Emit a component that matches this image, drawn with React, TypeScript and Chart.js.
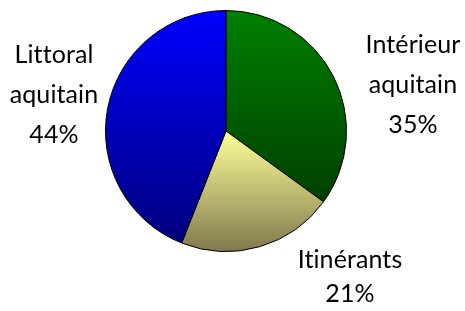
import React, { useEffect, useRef } from "react";
import { Chart, registerables } from "chart.js";

Chart.register(...registerables);

const categories = ["Intérieur aquitain", "Itinérants", "Littoral aquitain"];
const shares = [35, 21, 44];
const labelLines = [
  ["Intérieur", "aquitain", "35%"],
  ["Itinérants", "21%"],
  ["Littoral", "aquitain", "44%"],
];
const topColors = ["#008000", "#ffff99", "#0000ff"];
const bottomColors = ["#003f00", "#7f784c", "#00007c"];

// label layout: offset of first baseline from pie centre (px), line step
const labelLayout = [
  { dx: 187, dy: -78, step: 40 },
  { dx: 124, dy: 137, step: 34 },
  { dx: -172, dy: -68, step: 40 },
];

function sliceGradient(ctx: any) {
  const chart = ctx.chart;
  const i = ctx.dataIndex;
  const area = chart.chartArea;
  if (!area || i === undefined) return topColors[i ?? 0];
  const cx = (area.left + area.right) / 2;
  const cy = (area.top + area.bottom) / 2;
  const r = Math.min(area.right - area.left, area.bottom - area.top) / 2;
  const total = shares.reduce((a, b) => a + b, 0);
  let start = -Math.PI / 2;
  for (let k = 0; k < i; k++) start += (shares[k] / total) * Math.PI * 2;
  const end = start + (shares[i] / total) * Math.PI * 2;
  let minY = cy, maxY = cy;
  const steps = 60;
  for (let s = 0; s <= steps; s++) {
    const a = start + ((end - start) * s) / steps;
    const y = cy + r * Math.sin(a);
    minY = Math.min(minY, y);
    maxY = Math.max(maxY, y);
  }
  const g = chart.ctx.createLinearGradient(0, minY, 0, maxY);
  g.addColorStop(0, topColors[i]);
  g.addColorStop(1, bottomColors[i]);
  return g;
}

const labelPlugin = {
  id: "outerLabels",
  afterDraw(chart: any) {
    const meta = chart.getDatasetMeta(0);
    const arc = meta.data[0];
    if (!arc) return;
    const cx = arc.x;
    const cy = arc.y;
    const c = chart.ctx;
    c.save();
    c.fillStyle = "#000";
    c.font = "25px Lato";
    try { (c as any).letterSpacing = "0.1px"; } catch (e) {}
    c.textAlign = "center";
    c.textBaseline = "alphabetic";
    labelLines.forEach((lines, i) => {
      const L = labelLayout[i];
      lines.forEach((t, j) => {
        c.fillText(t, cx + L.dx, cy + L.dy + j * L.step);
      });
    });
    c.restore();
  },
};

export default function App() {
  const ref = useRef<HTMLCanvasElement | null>(null);
  useEffect(() => {
    document.body.style.margin = "0";
    const chart = new Chart(ref.current!, {
      type: "pie",
      data: {
        labels: categories,
        datasets: [
          {
            data: shares,
            backgroundColor: sliceGradient as any,
            borderColor: "#000",
            borderWidth: 1,
            hoverOffset: 0,
          },
        ],
      },
      options: {
        responsive: false,
        animation: false,
        layout: { padding: { top: 10, bottom: 59, left: 100, right: 113 } },
        plugins: { legend: { display: false }, tooltip: { enabled: false } },
      },
      plugins: [labelPlugin],
    });
    return () => chart.destroy();
  }, []);
  return (
    <div style={{ width: 465, height: 311, background: "#fff" }}>
      <canvas ref={ref} width={465} height={311} />
    </div>
  );
}
